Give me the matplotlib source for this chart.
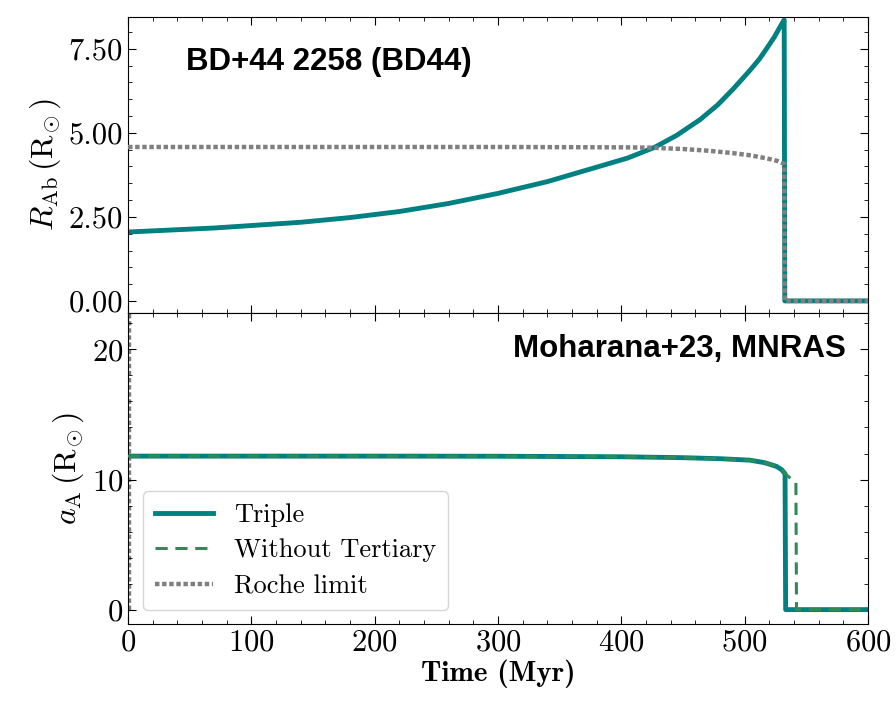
import matplotlib
matplotlib.use("Agg")
import matplotlib.pyplot as plt
from matplotlib.ticker import MultipleLocator, FormatStrFormatter

plt.rcParams["font.family"] = "cmr10"
plt.rcParams["mathtext.fontset"] = "cm"
plt.rcParams["axes.formatter.use_mathtext"] = True

# top panel: radius of Ab (R_sun) vs time (Myr)
t_r = [0, 70, 140, 180, 220, 260, 300, 340, 380, 405, 427, 445, 464, 478,
       490.5, 504, 512, 518, 524, 528.6, 532, 532.5, 600]
r_ab = [2.05, 2.17, 2.34, 2.48, 2.66, 2.9, 3.2, 3.55, 3.98, 4.25, 4.57, 4.93, 5.4, 5.83,
        6.3, 6.85, 7.2, 7.52, 7.85, 8.15, 8.36, 0.0, 0.0]

t_roche = [0, 100, 200, 300, 400, 423, 450, 470, 490, 505, 518, 526, 532, 532.5, 600]
roche = [4.58, 4.58, 4.58, 4.58, 4.57, 4.56, 4.52, 4.47, 4.4, 4.33, 4.24, 4.17, 4.08, 0.0, 0.0]

# bottom panel: inner semimajor axis a_A (R_sun)
t_a = [0, 100, 200, 300, 400, 450, 480, 504, 516, 526, 530, 532.7, 533.2, 600]
a_tri = [11.8, 11.8, 11.8, 11.79, 11.75, 11.68, 11.6, 11.49, 11.3, 11.0, 10.75, 10.45, 0.0, 0.0]

t_nt = [0, 100, 200, 300, 400, 450, 480, 504, 516, 526, 530, 534, 537, 540, 541.5, 542, 600]
a_nt = [11.8, 11.8, 11.8, 11.79, 11.75, 11.68, 11.6, 11.49, 11.3, 11.0, 10.75, 10.35, 10.1, 9.85, 9.8, 0.0, 0.0]

t_roche_b = [0.5, 0.5]
roche_b = [0.0, 23.0]

teal = "#008080"
green = "#2e8b57"
grey = "#808080"

fig = plt.figure(figsize=(8.96, 7.05), dpi=100)
ax1 = fig.add_axes([0.1429, 0.556, 0.8259, 0.42])
ax2 = fig.add_axes([0.1429, 0.115, 0.8259, 0.441], sharex=ax1)

ax1.plot(t_roche, roche, color=grey, lw=3.2, ls=(0, (1, 0.6)), zorder=3)
ax1.plot(t_r, r_ab, color=teal, lw=3.5, zorder=2)
ax1.set_ylim(-0.36, 8.45)
ax1.set_xlim(0, 600)
ax1.yaxis.set_major_locator(MultipleLocator(2.5))
ax1.yaxis.set_minor_locator(MultipleLocator(0.5))
ax1.yaxis.set_major_formatter(FormatStrFormatter("%.2f"))
ax1.set_ylabel(r"$R_{\rm Ab}\,({\rm R}_{\!\odot})$", fontsize=23, labelpad=4)
ax1.tick_params(labelbottom=False)
ax1.text(0.078, 0.82, "BD+44 2258 (BD44)", transform=ax1.transAxes,
         fontsize=22.5, fontweight="bold", family="Liberation Sans")

l1, = ax2.plot(t_a, a_tri, color=teal, lw=3.5, zorder=2)
l2, = ax2.plot(t_nt, a_nt, color=green, lw=2.2, ls=(0, (4, 2.5)), zorder=3)
l3, = ax2.plot(t_roche_b, roche_b, color=grey, lw=3.2, ls=(0, (1, 0.6)), zorder=1)
ax2.set_ylim(-1.1, 22.8)
ax2.yaxis.set_major_locator(MultipleLocator(10))
ax2.yaxis.set_minor_locator(MultipleLocator(2))
ax2.xaxis.set_major_locator(MultipleLocator(100))
ax2.xaxis.set_minor_locator(MultipleLocator(20))
ax2.set_ylabel(r"$a_{\rm A}\,({\rm R}_{\!\odot})$", fontsize=23, labelpad=4)
ax2.set_xlabel("Time (Myr)", fontsize=21, fontname="cmb10", labelpad=2)
ax2.text(0.97, 0.86, "Moharana+23, MNRAS", transform=ax2.transAxes, ha="right",
         fontsize=22.5, fontweight="bold", family="Liberation Sans")
ax2.legend([l1, l2, l3], ["Triple", "Without Tertiary", "Roche limit"],
           loc="lower left", fontsize=19, handlelength=2.2, framealpha=0.8,
           borderpad=0.45, labelspacing=0.45, borderaxespad=0,
           bbox_to_anchor=(0.02, 0.045))

for ax in (ax1, ax2):
    ax.tick_params(which="both", direction="in", top=True, right=True, labelsize=22)
    ax.tick_params(which="major", length=6)
    ax.tick_params(which="minor", length=3)

fig.savefig("out.png", dpi=100)
